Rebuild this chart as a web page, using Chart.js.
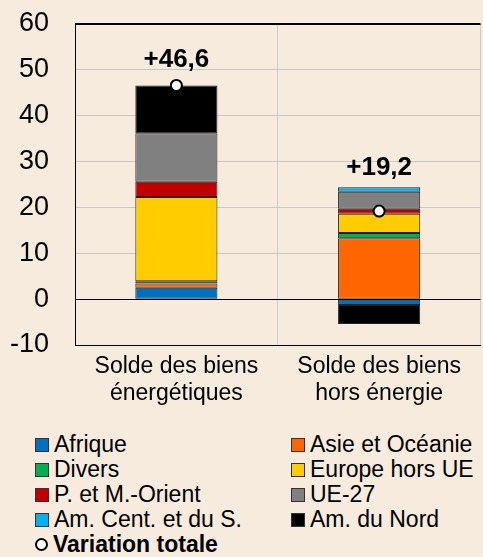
<!DOCTYPE html>
<html>
<head>
<meta charset="utf-8">
<script src="https://cdn.jsdelivr.net/npm/chart.js@4/dist/chart.umd.min.js"></script>
<style>
  html, body { margin: 0; padding: 0; }
  body { width: 483px; height: 557px; overflow: hidden; background: #F6EBDC; position: relative;
         font-family: "Liberation Sans", Arial, sans-serif; }
  #wrap { position: absolute; left: 0; top: 0; width: 488px; height: 410px; }
  #legend { position: absolute; left: 35px; top: 432px; display: grid;
            grid-template-columns: 256px auto; grid-auto-rows: 25px; font-size: 23px; color: #000; }
  .item { display: flex; align-items: center; white-space: nowrap; }
  .box { width: 12px; height: 12px; border: 1px solid #333; margin-right: 5px; flex: none; }
  .dot { width: 9px; height: 9px; border: 2px solid #000; border-radius: 50%; background: #fff; margin-right: 5px; flex: none; }
  .bold { font-weight: bold; }
</style>
</head>
<body>
<div id="wrap"><canvas id="chart"></canvas></div>
<div id="legend"></div>
<script>
// Categories and tick range
const categories = [['Solde des biens', 'énergétiques'], ['Solde des biens', 'hors énergie']];
const yMin = -10, yMax = 60, yStep = 10;

// Contributions by region (points)
const afrique = [2.5, -1.3];
const asieOceanie = [0.9, 13.3];
const divers = [0.5, 1.1];
const europeHorsUE = [18.4, 4.2];
const procheMoyenOrient = [3.3, 1.1];
const ue27 = [10.6, 3.7];
const amCentSud = [0.0, 1.0];
const amNord = [10.4, -4.1];
const variationTotale = [46.6, 19.2];

const series = [
    { label: 'Afrique', data: afrique, color: '#0070C0' },
    { label: 'Asie et Océanie', data: asieOceanie, color: '#FF6600' },
    { label: 'Divers', data: divers, color: '#00B050' },
    { label: 'Europe hors UE', data: europeHorsUE, color: '#FFCC00' },
    { label: 'P. et M.-Orient', data: procheMoyenOrient, color: '#C00000' },
    { label: 'UE-27', data: ue27, color: '#808080' },
    { label: 'Am. Cent. et du S.', data: amCentSud, color: '#00B0F0' },
    { label: 'Am. du Nord', data: amNord, color: '#000000' }
];

const datasets = series.map(s => ({
    type: 'bar',
    label: s.label,
    data: s.data,
    backgroundColor: s.color,
    borderColor: '#222',
    borderWidth: 1,
    borderSkipped: false,
    categoryPercentage: 1,
    barPercentage: 0.405
}));
datasets.push({
    type: 'line',
    label: 'Variation totale',
    data: variationTotale,
    stack: 'total',
    order: -1,
    showLine: false,
    pointRadius: 5.5,
    pointBorderWidth: 2,
    pointBackgroundColor: '#fff',
    pointBorderColor: '#000'
});

// Black frame line along the top of the plot (at the 60 tick)
const topFrame = {
    id: 'topFrame',
    afterDraw(chart) {
        const ctx = chart.ctx;
        const y = Math.round(chart.scales.y.getPixelForValue(yMax));
        const left = chart.scales.x.left;
        const right = chart.scales.x.right;
        ctx.save();
        ctx.fillStyle = '#000';
        ctx.fillRect(left, y - 1, right - left, 1.5);
        ctx.restore();
    }
};

// Draw "+46,6" style labels above each stack
const totalLabels = {
    id: 'totalLabels',
    afterDatasetsDraw(chart) {
        const ctx = chart.ctx;
        const yScale = chart.scales.y;
        const meta = chart.getDatasetMeta(series.length);
        ctx.save();
        ctx.font = 'bold 26px "Liberation Sans", Arial, sans-serif';
        ctx.fillStyle = '#000';
        ctx.textAlign = 'center';
        ctx.textBaseline = 'alphabetic';
        meta.data.forEach((pt, i) => {
            const posSum = series.reduce((a, s) => a + Math.max(0, s.data[i]), 0);
            const top = Math.min(yScale.getPixelForValue(posSum), pt.y - 6);
            const v = variationTotale[i];
            const txt = (v >= 0 ? '+' : '') + v.toFixed(1).replace('.', ',');
            ctx.fillText(txt, pt.x, top - 12);
        });
        ctx.restore();
    }
};

new Chart(document.getElementById('chart'), {
    data: { labels: categories, datasets: datasets },
    options: {
        responsive: true,
        maintainAspectRatio: false,
        animation: false,
        layout: { padding: { top: 24, right: 3, left: 0, bottom: 0 } },
        scales: {
            x: {
                stacked: true,
                offset: true,
                grid: {
                    offset: true,
                    drawTicks: false,
                    color: ctx => ctx.index === 0 ? 'rgba(0,0,0,0)' : '#C5CCD4'
                },
                border: { display: true, color: '#000', width: 1 },
                ticks: {
                    color: '#000',
                    padding: 8,
                    font: { family: '"Liberation Sans", Arial, sans-serif', size: 23, lineHeight: 1.17 }
                },
                afterFit: s => { s.height = 65; s.paddingLeft = 0; s.paddingRight = 0; }
            },
            y: {
                stacked: true,
                min: yMin,
                max: yMax,
                grid: {
                    drawTicks: false,
                    color: ctx => (ctx.tick.value === 0 || ctx.tick.value === yMax) ? '#000' : '#C8C8C8'
                },
                border: { display: true, color: '#000', width: 1 },
                ticks: {
                    stepSize: yStep,
                    color: '#000',
                    padding: 26,
                    font: { family: '"Liberation Sans", Arial, sans-serif', size: 27 }
                },
                afterFit: s => { s.width = 75; s.paddingTop = 0; s.paddingBottom = 0; }
            }
        },
        plugins: {
            legend: { display: false },
            tooltip: { enabled: false }
        }
    },
    plugins: [topFrame, totalLabels]
});

// HTML legend in two columns
const legendEl = document.getElementById('legend');
series.forEach(s => {
    const item = document.createElement('div');
    item.className = 'item';
    item.innerHTML = '<span class="box" style="background:' + s.color + '"></span>' + s.label;
    legendEl.appendChild(item);
});
const totalItem = document.createElement('div');
totalItem.className = 'item bold';
totalItem.innerHTML = '<span class="dot"></span>Variation totale';
legendEl.appendChild(totalItem);
</script>
</body>
</html>
